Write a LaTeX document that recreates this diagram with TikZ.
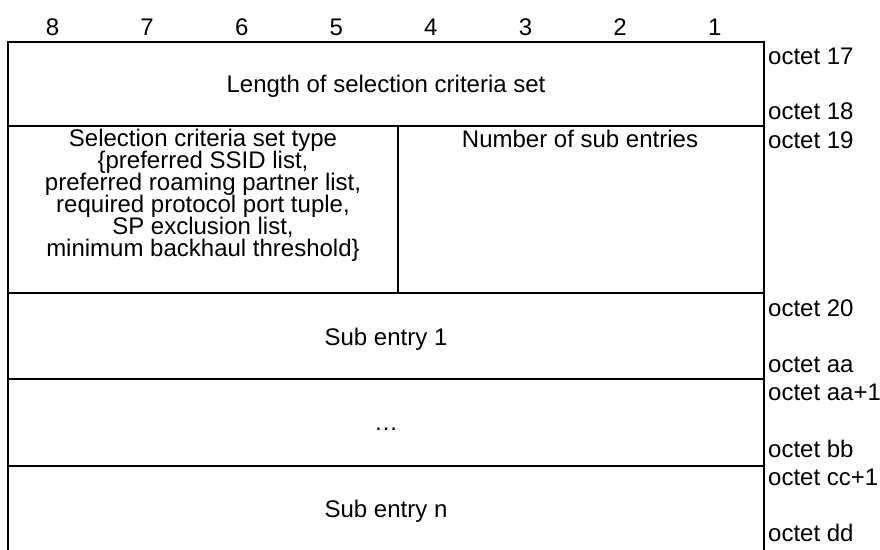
\documentclass[tikz,border=0pt]{standalone}
\usepackage{fontspec}
\setmainfont{Liberation Sans}
\newcommand{\tablefont}{\fontsize{24}{21.9}\selectfont\lineskiplimit=-30pt\relax}
\begin{document}
\begin{tikzpicture}[x=1pt,y=-1pt,
  every node/.style={inner sep=0pt, font=\tablefont},
  cell/.style={anchor=base},
  oct/.style={anchor=base west},
  rule/.style={line width=2pt, line cap=rect}]
\useasboundingbox (0,0) rectangle (880,549);
% frame
\draw[rule] (8,552) -- (8,41.7) -- (764,41.7) -- (764,552);
\foreach \y in {126,293,379,465.7} \draw[rule] (8,\y) -- (764,\y);
\draw[rule] (398,126) -- (398,293);
% bit numbers
\foreach \n [count=\i from 0] in {8,7,6,5,4,3,2,1}
  \node[cell] (bit\n) at (52.5+94.6*\i,35) {\n};
% cell texts
\node[cell] (len) at (386,92) {Length of selection criteria set};
\node[cell, align=center] (type) at (203,256) {Selection criteria set type\\
  \{preferred SSID list,\\
  preferred roaming partner list,\\
  required protocol port tuple,\\
  SP exclusion list,\\
  minimum backhaul threshold\}};
\node[cell] (num) at (580,147) {Number of sub entries};
\node[cell] (sub1) at (386,345) {Sub entry 1};
\node[cell] (dots) at (386,430) {\dots};
\node[cell] (subn) at (386,517) {Sub entry n};
% octet labels
\node[oct] (o17) at (768,64) {octet 17};
\node[oct] (o18) at (768,119) {octet 18};
\node[oct] (o19) at (768,148) {octet 19};
\node[oct] (o20) at (768,316) {octet 20};
\node[oct] (oaa) at (768,372) {octet aa};
\node[oct] (oaa1) at (768,400) {octet aa+1};
\node[oct] (obb) at (768,457) {octet bb};
\node[oct] (occ1) at (768,485) {octet cc+1};
\node[oct] (odd) at (768,541) {octet dd};
\end{tikzpicture}
\end{document}
